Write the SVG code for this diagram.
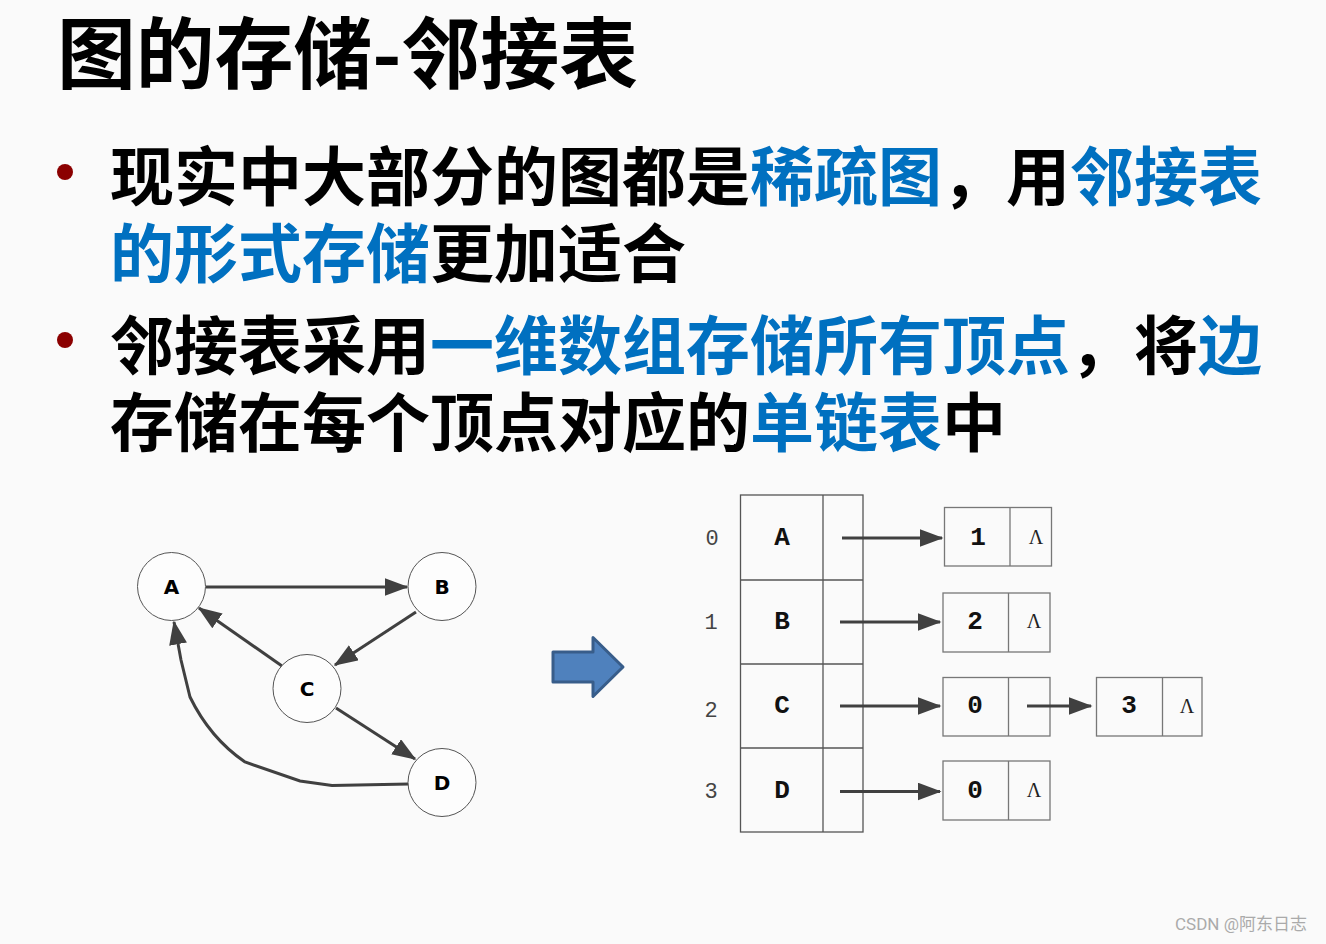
<svg xmlns="http://www.w3.org/2000/svg" width="1326" height="944" viewBox="0 0 1326 944">
<style>
.cjk{font-family:"Noto Sans CJK SC","Noto Sans CJK JP",sans-serif;font-weight:bold;}
.t{font-size:64px;}
.k{fill:#000;}
.b{fill:#0070C0;}
.node circle{fill:#fdfdfd;stroke:#555;stroke-width:1;}
.nl{font-family:"DejaVu Sans",sans-serif;font-weight:bold;font-size:20px;text-anchor:middle;fill:#000;}
.edge{fill:none;stroke:#404040;stroke-width:3;}
.cell{fill:none;stroke:#555;stroke-width:1.3;}
.lbox{fill:none;stroke:#777;stroke-width:1.3;}
.idx{font-family:"Liberation Mono",monospace;font-size:22px;fill:#444;text-anchor:middle;}
.cv{font-family:"Liberation Mono",monospace;font-weight:bold;font-size:26px;fill:#111;text-anchor:middle;}
.nul{font-family:"Liberation Serif",serif;font-size:20px;fill:#222;text-anchor:middle;}
</style>
<defs>
<marker id="ah" markerWidth="8" markerHeight="6" refX="7.5" refY="3" orient="auto" markerUnits="strokeWidth">
<path d="M0,0 L8,3 L0,6 Z" fill="#404040"/>
</marker>
</defs>
<rect width="1326" height="944" fill="#fafafa"/>

<g id="title">
<text class="cjk" x="57" y="83" font-size="78" fill="#000" textLength="581" lengthAdjust="spacingAndGlyphs">图的存储-邻接表</text>
</g>

<g id="bullets">
<circle cx="65" cy="172" r="8" fill="#8B0000"/>
<circle cx="65" cy="340" r="8" fill="#8B0000"/>
<text class="cjk t k" x="110" y="200">现实中大部分的图都是</text>
<text class="cjk t b" x="750" y="200">稀疏图</text>
<text class="cjk t k" x="942" y="200">，用</text>
<text class="cjk t b" x="1070" y="200">邻接表</text>
<text class="cjk t b" x="110" y="277">的形式存储</text>
<text class="cjk t k" x="430" y="277">更加适合</text>
<text class="cjk t k" x="110" y="369">邻接表采用</text>
<text class="cjk t b" x="430" y="369">一维数组存储所有顶点</text>
<text class="cjk t k" x="1070" y="369">，将</text>
<text class="cjk t b" x="1198" y="369">边</text>
<text class="cjk t k" x="110" y="446">存储在每个顶点对应的</text>
<text class="cjk t b" x="750" y="446">单链表</text>
<text class="cjk t k" x="942" y="446">中</text>
</g>

<g id="graph-edges">
<path class="edge" d="M206,587 L407,587" marker-end="url(#ah)"/>
<path class="edge" d="M416,612 L335,665" marker-end="url(#ah)"/>
<path class="edge" d="M282,666 L199,608" marker-end="url(#ah)"/>
<path class="edge" d="M336,708 L415,759" marker-end="url(#ah)"/>
<path class="edge" d="M409,784 L332,785.5 L300,781 L245,762 Q210,738 190,697 L181,660 L174,622" marker-end="url(#ah)"/>
</g>

<g id="node-A" class="node"><circle cx="171.5" cy="586.5" r="34"/><text class="nl" x="171.5" y="593.5">A</text></g>
<g id="node-B" class="node"><circle cx="442" cy="586.5" r="34"/><text class="nl" x="442" y="593.5">B</text></g>
<g id="node-C" class="node"><circle cx="307" cy="688.5" r="34"/><text class="nl" x="307" y="695.5">C</text></g>
<g id="node-D" class="node"><circle cx="442" cy="782.5" r="34"/><text class="nl" x="442" y="789.5">D</text></g>

<g id="big-arrow">
<path d="M553,652 L593,652 L593,637.5 L623,667 L593,696.5 L593,682 L553,682 Z" fill="#4F81BD" stroke="#385D8A" stroke-width="3" stroke-linejoin="round"/>
</g>

<g id="vertex-array">
<rect class="cell" x="740.5" y="495" width="122.5" height="337"/>
<line class="cell" x1="823" y1="495" x2="823" y2="832"/>
<line class="cell" x1="740.5" y1="580" x2="863" y2="580"/>
<line class="cell" x1="740.5" y1="664" x2="863" y2="664"/>
<line class="cell" x1="740.5" y1="748" x2="863" y2="748"/>
<text class="idx" x="712" y="545">0</text>
<text class="idx" x="711" y="629">1</text>
<text class="idx" x="711" y="717">2</text>
<text class="idx" x="711" y="798">3</text>
<text class="cv" x="782" y="545">A</text>
<text class="cv" x="782" y="629">B</text>
<text class="cv" x="782" y="713">C</text>
<text class="cv" x="782" y="798">D</text>
</g>

<g id="list-nodes">
<g id="ln-0-1"><rect class="lbox" x="944.5" y="507.5" width="107" height="58.5"/><line class="lbox" x1="1010" y1="507.5" x2="1010" y2="566"/><text class="cv" x="978" y="545">1</text><text class="nul" x="1036" y="544">Λ</text></g>
<g id="ln-1-2"><rect class="lbox" x="943" y="593" width="107" height="59"/><line class="lbox" x1="1008.5" y1="593" x2="1008.5" y2="652"/><text class="cv" x="975" y="629">2</text><text class="nul" x="1034" y="628">Λ</text></g>
<g id="ln-2-0"><rect class="lbox" x="943" y="677.5" width="107" height="58.5"/><line class="lbox" x1="1008.5" y1="677.5" x2="1008.5" y2="736"/><text class="cv" x="975" y="713">0</text></g>
<g id="ln-2-3"><rect class="lbox" x="1096.5" y="677.5" width="105.5" height="58.5"/><line class="lbox" x1="1162.5" y1="677.5" x2="1162.5" y2="736"/><text class="cv" x="1129" y="713">3</text><text class="nul" x="1187" y="713">Λ</text></g>
<g id="ln-3-0"><rect class="lbox" x="943" y="761" width="107" height="59"/><line class="lbox" x1="1008.5" y1="761" x2="1008.5" y2="820"/><text class="cv" x="975" y="798">0</text><text class="nul" x="1034" y="797">Λ</text></g>
</g>

<g id="list-connectors">
<path class="edge" d="M842,538 L942,538" marker-end="url(#ah)"/>
<path class="edge" d="M840,622 L940,622" marker-end="url(#ah)"/>
<path class="edge" d="M840,706 L940,706" marker-end="url(#ah)"/>
<path class="edge" d="M1027,706 L1091,706" marker-end="url(#ah)"/>
<path class="edge" d="M840,791.5 L940,791.5" marker-end="url(#ah)"/>
</g>

<text x="1175" y="930" font-family="Roboto,'Noto Sans CJK SC',sans-serif" font-size="17" fill="#aaa">CSDN @阿东日志</text>
</svg>
